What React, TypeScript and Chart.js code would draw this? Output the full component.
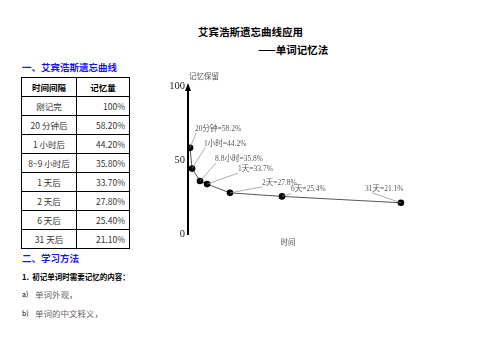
import React, { useEffect, useRef } from "react";
import { Chart, registerables } from "chart.js";

Chart.register(...registerables);

// ---- data ----
const intervals = ["刚记完", "20 分钟后", "1 小时后", "8~9 小时后", "1 天后", "2 天后", "6 天后", "31 天后"];
const retention = ["100%", "58.20%", "44.20%", "35.80%", "33.70%", "27.80%", "25.40%", "21.10%"];

const curveNames = ["20分钟", "1小时", "8.8小时", "1天", "2天", "6天", "31天"];
const curveValues = [58.2, 44.2, 35.8, 33.7, 27.8, 25.4, 21.1];
// schematic horizontal positions of the curve points (0..100 along the time axis)
const curveTimePos = [0.9, 1.8, 5.3, 8.4, 18.5, 41.4, 93.8];
const yTicks = [0, 50, 100];

// label placement (pixel offsets from each point: text left, text middle, leader end x offset)
const labelOffsets = [
  [5, -19, 1],
  [12, -25, 1],
  [15, -22, 1],
  [31, -15, 0],
  [32, -10, 0],
  [9, -7, 0],
  [-36, -14, 7],
];

const CJK = '"Noto Sans CJK SC", "Noto Sans", sans-serif';
const SERIF_CJK = '"Liberation Serif", "DejaVu Serif", "Noto Sans CJK SC", serif';

const decorPlugin = {
  id: "decor",
  afterDatasetsDraw(chart: any) {
    const { ctx, chartArea } = chart;
    const meta = chart.getDatasetMeta(0);
    ctx.save();
    // arrow at top of y axis
    const ax = chartArea.left;
    const at = chartArea.top;
    ctx.fillStyle = "#000";
    ctx.beginPath();
    ctx.moveTo(ax, at - 3);
    ctx.lineTo(ax - 3, at + 5);
    ctx.lineTo(ax + 3, at + 5);
    ctx.closePath();
    ctx.fill();
    // axis captions
    ctx.font = `7.5px ${SERIF_CJK}`;
    ctx.fillStyle = "#555";
    ctx.textAlign = "left";
    ctx.textBaseline = "middle";
    ctx.fillText("记忆保留", ax + 1, at - 9);
    ctx.textAlign = "center";
    ctx.fillText("时间", chartArea.left + (chartArea.right - chartArea.left) * 0.44, chartArea.bottom + 9);
    ctx.textAlign = "left";
    // labels with leader lines
    meta.data.forEach((pt: any, i: number) => {
      const [dx, dy, lx] = labelOffsets[i];
      const tx = pt.x + dx;
      const ty = pt.y + dy;
      ctx.strokeStyle = "#888";
      ctx.lineWidth = 0.7;
      ctx.beginPath();
      ctx.moveTo(pt.x, pt.y);
      ctx.lineTo(tx + lx, ty + 4);
      ctx.stroke();
      ctx.fillStyle = "#555";
      ctx.fillText(`${curveNames[i]}=${curveValues[i]}%`, tx, ty);
    });
    ctx.restore();
  },
};

function ForgettingChart() {
  const ref = useRef<HTMLCanvasElement>(null);
  useEffect(() => {
    if (!ref.current) return;
    const chart = new Chart(ref.current, {
      type: "scatter",
      data: {
        datasets: [
          {
            data: curveTimePos.map((x, i) => ({ x, y: curveValues[i] })),
            showLine: true,
            borderColor: "#555",
            borderWidth: 1,
            pointRadius: 3.3,
            pointBackgroundColor: "#000",
            pointBorderWidth: 0,
            tension: 0,
          },
        ],
      },
      options: {
        responsive: false,
        animation: false,
        layout: { padding: { top: 16, right: 15, left: 0, bottom: 0 } },
        plugins: { legend: { display: false }, tooltip: { enabled: false } },
        scales: {
          x: {
            type: "linear",
            min: 0,
            max: 100,
            grid: { display: false, drawTicks: false },
            border: { display: false },
            ticks: { display: false },
            afterFit: (s: any) => {
              s.height = 21;
            },
          },
          y: {
            type: "linear",
            min: 0,
            max: 100,
            afterBuildTicks: (s: any) => {
              s.ticks = yTicks.map((v) => ({ value: v }));
            },
            grid: { display: false, drawTicks: false },
            border: { display: true, color: "#000", width: 2 },
            ticks: {
              padding: 3,
              color: "#222",
              font: { size: 10.5, family: '"Liberation Serif", serif' },
            },
            afterFit: (s: any) => {
              s.width = 28;
            },
          },
        },
      },
      plugins: [decorPlugin],
    });
    return () => chart.destroy();
  }, []);
  return (
    <canvas
      ref={ref}
      width={270}
      height={185}
      style={{ position: "absolute", left: 160, top: 70, width: 270, height: 185 }}
    />
  );
}

const abs = (left: number, top: number, extra: React.CSSProperties = {}): React.CSSProperties => ({
  position: "absolute",
  left,
  top,
  whiteSpace: "nowrap",
  fontFamily: CJK,
  ...extra,
});

export default function App() {
  const cell: React.CSSProperties = {
    border: "1px solid #000",
    height: 18,
    padding: 0,
    fontSize: 8.5,
    lineHeight: "18px",
    color: "#333",
  };
  return (
    <div
      style={{
        position: "fixed",
        left: 0,
        top: 0,
        width: 503,
        height: 356,
        background: "#fff",
        overflow: "hidden",
        fontFamily: CJK,
      }}
    >
      <div style={abs(198, 26, { fontSize: 10.5, fontWeight: 700, lineHeight: "12px", color: "#000" })}>
        艾宾浩斯遗忘曲线应用
      </div>
      <div style={abs(258, 44, { fontSize: 10.5, fontWeight: 700, lineHeight: "12px", color: "#000" })}>
        ——单词记忆法
      </div>
      <div style={abs(22, 61, { fontSize: 9.5, fontWeight: 700, lineHeight: "12px", color: "#1515f0" })}>
        一、艾宾浩斯遗忘曲线
      </div>
      <table
        style={{
          position: "absolute",
          left: 21,
          top: 77,
          borderCollapse: "collapse",
          tableLayout: "fixed",
          width: 108,
          fontFamily: CJK,
        }}
      >
        <colgroup>
          <col style={{ width: 55 }} />
          <col style={{ width: 53 }} />
        </colgroup>
        <tbody>
          <tr>
            <td style={{ ...cell, textAlign: "center", fontWeight: 700, color: "#000" }}>时间间隔</td>
            <td style={{ ...cell, textAlign: "center", fontWeight: 700, color: "#000" }}>记忆量</td>
          </tr>
          {intervals.map((t, i) => (
            <tr key={t}>
              <td style={{ ...cell, textAlign: "center" }}>{t}</td>
              <td style={{ ...cell, textAlign: "right", paddingRight: 4 }}>{retention[i]}</td>
            </tr>
          ))}
        </tbody>
      </table>
      <div style={abs(22, 252, { fontSize: 9.5, fontWeight: 700, lineHeight: "12px", color: "#1515f0" })}>
        二、学习方法
      </div>
      <div style={abs(22, 272, { fontSize: 7.5, fontWeight: 700, lineHeight: "10px", color: "#000" })}>
        1.&nbsp;&nbsp;初记单词时需要记忆的内容：
      </div>
      <div style={abs(22, 289, { fontSize: 7, lineHeight: "10px", color: "#000" })}>a)</div>
      <div style={abs(35, 289, { fontSize: 8.5, lineHeight: "10px", color: "#666" })}>单词外观，</div>
      <div style={abs(22, 308, { fontSize: 7, lineHeight: "10px", color: "#000" })}>b)</div>
      <div style={abs(35, 308, { fontSize: 8.5, lineHeight: "10px", color: "#666" })}>单词的中文释义，</div>
      <ForgettingChart />
    </div>
  );
}
